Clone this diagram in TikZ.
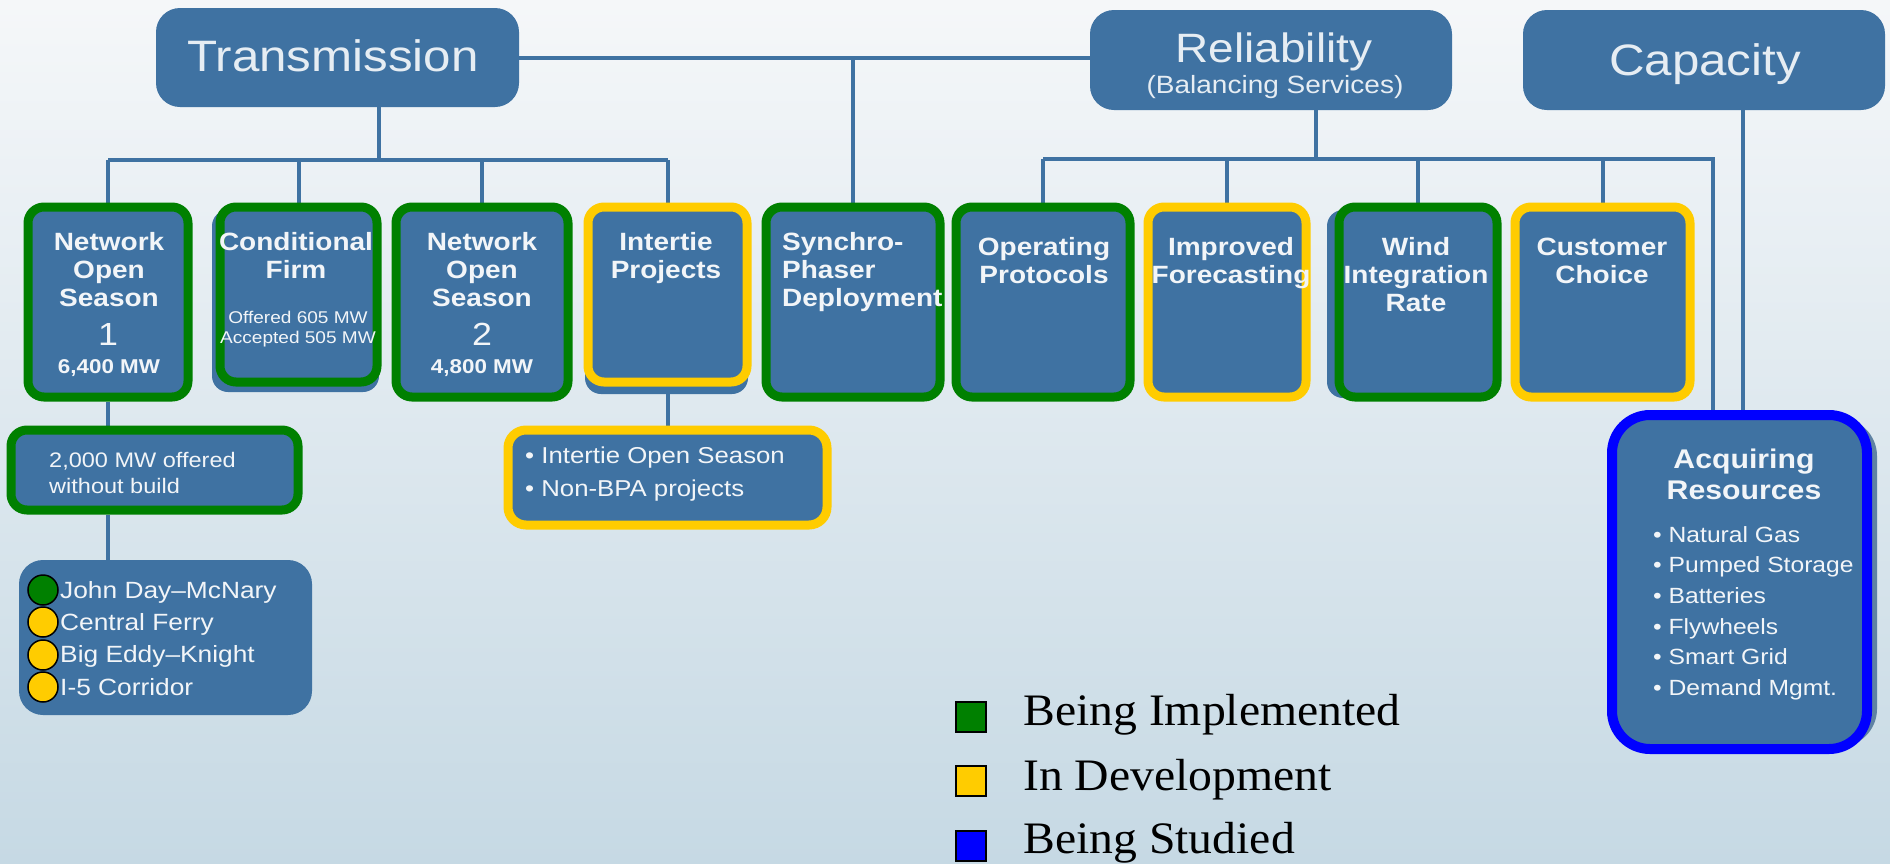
\documentclass[tikz,border=0pt]{standalone}
\usepackage{fontspec}
\setmainfont{Liberation Serif}
\newfontfamily\hv[FakeStretch=1.12]{Liberation Sans}
\newfontfamily\lgd[FakeStretch=1.06]{Liberation Serif}
\newcommand\tp{\rule{0pt}{0.8em}}
\definecolor{boxblue}{HTML}{3F72A2}
\definecolor{shadeblue}{HTML}{5F82A3}
\definecolor{bgtop}{HTML}{F5F7F9}
\definecolor{bgbot}{HTML}{C6D9E4}
\definecolor{lgreen}{HTML}{008000}
\definecolor{lyellow}{HTML}{FFCC00}
\definecolor{lblue}{HTML}{0000FF}
\definecolor{txt}{HTML}{F2F5F8}
\definecolor{ttxt}{HTML}{E6EDF3}
\pgfdeclarelayer{bg}
\pgfdeclarelayer{lines}
\pgfsetlayers{bg,lines,main}
\begin{document}
\begin{tikzpicture}[x=1pt,y=-1pt,
  conn/.style={draw=boxblue,line width=4pt},
  hdr/.style={rectangle,fill=boxblue,rounded corners=24pt,inner sep=0pt},
  rowbox/.style={rectangle,fill=boxblue,line width=9pt,rounded corners=16pt,inner sep=0pt,minimum height=190pt},
  shortbox/.style={rowbox,minimum height=175pt},
  under/.style={rectangle,fill=boxblue,rounded corners=16pt,inner sep=0pt},
  ttl/.style={text=ttxt,font=\hv\fontsize{44}{48}\selectfont,inner sep=0pt},
  bt/.style={text=txt,font=\hv\bfseries\fontsize{25}{28}\selectfont,align=center,inner sep=0pt,anchor=north},
  st/.style={text=txt,inner sep=0pt,anchor=north west,align=left},
  dot/.style={circle,draw=black,line width=1.5pt,minimum size=30pt,inner sep=0pt},
  lsq/.style={rectangle,draw=black,line width=2pt,minimum size=30pt,inner sep=0pt},
  lt/.style={font=\lgd\fontsize{45}{50}\selectfont,inner sep=0pt,anchor=base west,text=black}]
\useasboundingbox (0,0) rectangle (1890,863);
\begin{pgfonlayer}{bg}
\fill[top color=bgtop,bottom color=bgbot] (0,0) rectangle (1890,863);
\end{pgfonlayer}

% header boxes
\node[hdr,minimum width=363pt,minimum height=99pt] (T) at (337.5,57.5) {};
\node[hdr,minimum width=362pt,minimum height=100pt] (R) at (1271,60) {};
\node[hdr,minimum width=362pt,minimum height=100pt] (C) at (1704,60) {};
\node[ttl,anchor=base] (tT) at (333,71) {Transmission};
\node[ttl,font=\hv\fontsize{41}{44}\selectfont,anchor=base] (tR) at (1274,62) {Reliability};
\node[ttl,font=\hv\fontsize{25}{28}\selectfont,anchor=base] (tR2) at (1275,93) {(Balancing Services)};
\node[ttl,anchor=base] (tC) at (1705,75) {Capacity};

% underlays
\node[under,minimum width=167pt,minimum height=182pt] (cfu) at (295.5,301) {};
\node[under,minimum width=163pt,minimum height=184pt] (ipu) at (666.5,302) {};
\node[under,minimum width=168pt,minimum height=188pt] (windu) at (1411,304) {};
\node[under,fill=shadeblue,rounded corners=38pt,minimum width=255pt,minimum height=329pt] (acqu) at (1749.5,582.5) {};

% row boxes
\node[rowbox,draw=lgreen,minimum width=160pt] (nos1) at (108,302) {};
\node[shortbox,draw=lgreen,minimum width=157pt] (cf) at (298.5,294.5) {};
\node[rowbox,draw=lgreen,minimum width=172pt] (nos2) at (482,302) {};
\node[shortbox,draw=lyellow,minimum width=159pt] (ip) at (667.5,294.5) {};
\node[rowbox,draw=lgreen,minimum width=174pt] (syn) at (853,302) {};
\node[rowbox,draw=lgreen,minimum width=174pt] (op) at (1043,302) {};
\node[rowbox,draw=lyellow,minimum width=158pt] (imp) at (1227,302) {};
\node[rowbox,draw=lgreen,minimum width=158pt] (wind) at (1418,302) {};
\node[rowbox,draw=lyellow,minimum width=175pt] (cust) at (1602.5,302) {};

% lower boxes
\node[rowbox,draw=lgreen,minimum width=287pt,minimum height=80pt] (mw) at (154.5,470) {};
\node[rowbox,draw=lyellow,rounded corners=18pt,minimum width=319pt,minimum height=95pt] (ipb) at (667.5,477.5) {};
\node[under,rounded corners=24pt,minimum width=293pt,minimum height=155pt] (jd) at (165.5,637.5) {};
\node[rowbox,draw=lblue,line width=10pt,rounded corners=38pt,minimum width=255pt,minimum height=334pt] (acq) at (1739.5,582) {};

% connectors
\coordinate (tbus) at (379,160);
\coordinate (rbus) at (1316,159);
\coordinate (rcorner) at (1713,159);
\coordinate (cdrop) at (1743,0);
\begin{pgfonlayer}{lines}
\draw[conn] (T.east) -- (T.east -| R.west);
\draw[conn] (syn.north |- T.east) -- (syn.north);
\draw[conn] (tbus |- T.south) -- (tbus);
\draw[conn] (nos1.north |- tbus) -- (ip.north |- tbus);
\foreach \n in {nos1,cf,nos2,ip} \draw[conn] (\n.north |- tbus) -- (\n.north);
\draw[conn] (rbus |- R.south) -- (rbus);
\draw[conn] (op.north |- rbus) -- (rcorner) -- (rcorner |- acq.north);
\foreach \n in {op,imp,wind,cust} \draw[conn] (\n.north |- rbus) -- (\n.north);
\draw[conn] (cdrop |- C.south) -- (cdrop |- acq.north);
\draw[conn] (nos1.south) -- (nos1.south |- mw.north);
\draw[conn] (nos1.south |- mw.south) -- (nos1.south |- jd.north);
\draw[conn] (ip.south) -- (ip.south |- ipb.north);
\end{pgfonlayer}

% row texts
\node[bt] (x1) at (109,230) {\tp Network\\Open\\Season};
\node[text=txt,font=\hv\fontsize{32}{34}\selectfont,inner sep=0pt,anchor=base] (d1) at (108,345) {1};
\node[text=txt,font=\hv\bfseries\fontsize{20}{22}\selectfont,inner sep=0pt,anchor=base] (m1) at (109,373) {6,400 MW};
\node[bt] (x2) at (296,230) {\tp Conditional\\Firm};
\node[bt,font=\hv\fontsize{17}{20}\selectfont] (x2b) at (298,309.4) {\tp Offered 605 MW\\Accepted 505 MW};
\node[bt] (x3) at (482,230) {\tp Network\\Open\\Season};
\node[text=txt,font=\hv\fontsize{32}{34}\selectfont,inner sep=0pt,anchor=base] (d2) at (482,345) {2};
\node[text=txt,font=\hv\bfseries\fontsize{20}{22}\selectfont,inner sep=0pt,anchor=base] (m2) at (482,373) {4,800 MW};
\node[bt] (x4) at (666,230) {\tp Intertie\\Projects};
\node[bt,anchor=north west,align=left] (x5) at (782,230) {\tp Synchro-\\Phaser\\Deployment};
\node[bt] (x6) at (1044,235) {\tp Operating\\Protocols};
\node[bt] (x7) at (1231,235) {\tp Improved\\Forecasting};
\node[bt] (x8) at (1416,235) {\tp Wind\\Integration\\Rate};
\node[bt] (x9) at (1602,235) {\tp Customer\\Choice};

% lower texts
\node[st,font=\hv\fontsize{21}{26}\selectfont] (xmw) at (49,450.2) {\tp 2,000 MW offered\\without build};
\node[st,font=\hv\fontsize{23}{33}\selectfont] (xipb) at (525,444.6) {\tp\textbullet\ Intertie Open Season\\\textbullet\ Non-BPA projects};
\node[st,font=\hv\fontsize{23.5}{32.3}\selectfont] (xjd) at (60,579.2) {\tp John Day–McNary\\Central Ferry\\Big Eddy–Knight\\I-5 Corridor};
\node[dot,fill=lgreen] (c1) at (43,590) {};
\node[dot,fill=lyellow] (c2) at (43,622) {};
\node[dot,fill=lyellow] (c3) at (43,655) {};
\node[dot,fill=lyellow] (c4) at (43,687) {};

\node[bt,font=\hv\bfseries\fontsize{27}{31}\selectfont] (xacq) at (1744,446.4) {\tp Acquiring\\Resources};
\node[st,font=\hv\fontsize{22}{30.6}\selectfont] (xacqb) at (1653,524.4) {\tp\textbullet\ Natural Gas\\\textbullet\ Pumped Storage\\\textbullet\ Batteries\\\textbullet\ Flywheels\\\textbullet\ Smart Grid\\\textbullet\ Demand Mgmt.};

% legend
\node[lsq,fill=lgreen] (l1) at (971,717) {};
\node[lsq,fill=lyellow] (l2) at (971,781) {};
\node[lsq,fill=lblue] (l3) at (971,846) {};
\node[lt] (lt1) at (1023,725) {Being Implemented};
\node[lt] (lt2) at (1023,790) {In Development};
\node[lt] (lt3) at (1023,853) {Being Studied};
\end{tikzpicture}
\end{document}
